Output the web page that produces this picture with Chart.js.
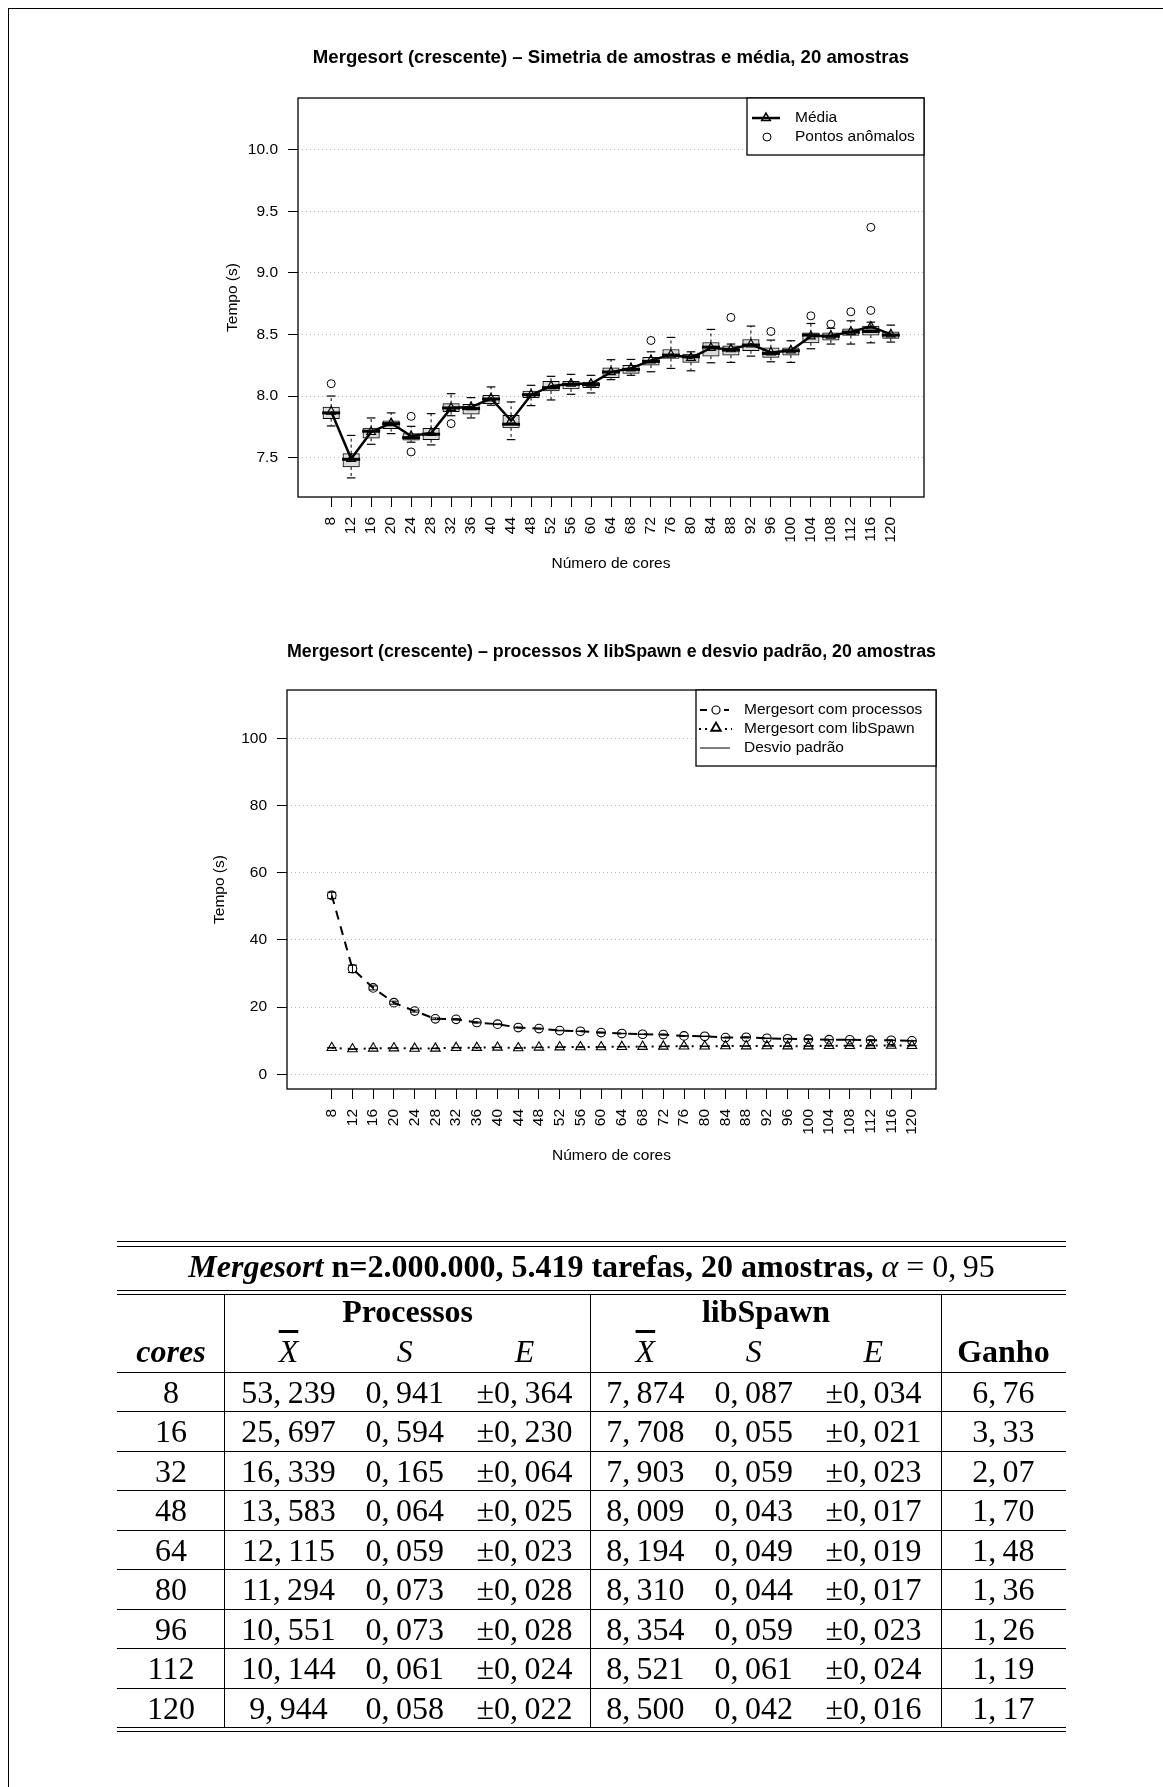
<!DOCTYPE html>
<html><head><meta charset="utf-8">
<script src="https://cdn.jsdelivr.net/npm/chart.js@4.4.1/dist/chart.umd.min.js"></script>
<style>
html,body{margin:0;padding:0;background:#fff;}
body{width:1163px;height:1787px;position:relative;overflow:hidden;}
#frame{position:absolute;left:8px;top:8px;width:1200px;height:1800px;border-left:1px solid #000;border-top:1px solid #000;}
.cv{position:absolute;}
#tbl{position:absolute;left:0;top:0;width:1163px;height:1787px;font-family:"Liberation Serif","Times New Roman",serif;color:#000;}
.rule{position:absolute;background:#000;}
.cell{position:absolute;text-align:center;white-space:nowrap;font-size:32px;}
.ov{text-decoration:overline;font-style:italic;}
</style></head><body>
<div id="frame"></div>
<div class="cv" style="left:100px;top:0;"><canvas id="c1" width="1022" height="600"></canvas></div>
<div class="cv" style="left:100px;top:600px;"><canvas id="c2" width="1023" height="600"></canvas></div>
<div id="tbl"></div>
<script>
// ---------- data ----------
const cores = [8,12,16,20,24,28,32,36,40,44,48,52,56,60,64,68,72,76,80,84,88,92,96,100,104,108,112,116,120];
const boxQ1   = [7.817,7.424,7.657,7.735,7.641,7.646,7.873,7.852,7.938,7.741,7.987,8.041,8.057,8.068,8.149,8.184,8.251,8.305,8.273,8.324,8.332,8.368,8.314,8.332,8.432,8.454,8.492,8.495,8.468];
const boxMed  = [7.863,7.486,7.714,7.776,7.662,7.690,7.903,7.898,7.976,7.771,8.011,8.068,8.095,8.093,8.195,8.216,8.281,8.332,8.319,8.397,8.373,8.414,8.346,8.368,8.495,8.486,8.519,8.524,8.495];
const boxQ3   = [7.910,7.532,7.740,7.798,7.695,7.738,7.938,7.933,8.006,7.844,8.041,8.120,8.120,8.114,8.228,8.249,8.314,8.378,8.341,8.435,8.408,8.459,8.392,8.392,8.514,8.514,8.546,8.568,8.522];
const whiskLo = [7.757,7.335,7.608,7.695,7.625,7.603,7.840,7.822,7.925,7.646,7.922,7.968,8.014,8.025,8.133,8.168,8.197,8.224,8.205,8.270,8.273,8.324,8.278,8.273,8.384,8.422,8.422,8.432,8.438];
const whiskHi = [8.000,7.680,7.822,7.863,7.754,7.857,8.019,7.987,8.074,7.952,8.087,8.160,8.176,8.168,8.295,8.297,8.359,8.476,8.359,8.541,8.422,8.568,8.454,8.449,8.589,8.550,8.611,8.600,8.576];
const libMean = [7.874,7.490,7.708,7.780,7.675,7.700,7.903,7.910,7.980,7.800,8.009,8.080,8.100,8.100,8.194,8.225,8.290,8.335,8.310,8.390,8.380,8.420,8.354,8.370,8.485,8.490,8.521,8.565,8.500];
const libSd   = [0.087,0.080,0.055,0.045,0.060,0.060,0.059,0.045,0.040,0.070,0.043,0.050,0.045,0.040,0.049,0.040,0.060,0.060,0.044,0.070,0.080,0.060,0.059,0.050,0.070,0.040,0.061,0.190,0.042];
const outCore = [8,24,24,32,72,88,96,104,108,112,116,116];
const outVal  = [8.10,7.835,7.546,7.776,8.451,8.638,8.524,8.651,8.584,8.684,9.370,8.695];
const procMean = [53.239,31.4,25.697,21.3,18.8,16.5,16.339,15.4,14.9,13.9,13.583,13.0,12.8,12.4,12.115,11.9,11.8,11.4,11.294,10.9,11.0,10.7,10.551,10.45,10.3,10.25,10.144,10.1,9.944];
const procSd   = [0.941,1.1,0.594,0.45,0.3,0.25,0.165,0.15,0.12,0.1,0.064,0.08,0.07,0.07,0.059,0.07,0.08,0.07,0.073,0.07,0.08,0.07,0.073,0.06,0.07,0.06,0.061,0.06,0.058];
const yTicks1 = [7.5,8.0,8.5,9.0,9.5,10.0];
const yTicks2 = [0,20,40,60,80,100];
const title1 = 'Mergesort (crescente) \u2013 Simetria de amostras e m\u00e9dia, 20 amostras';
const title2 = 'Mergesort (crescente) \u2013 processos X libSpawn e desvio padr\u00e3o, 20 amostras';
const xTitle = 'N\u00famero de cores';
const yTitle = 'Tempo (s)';
const legend1Labels = ['M\u00e9dia','Pontos an\u00f4malos'];
const legend2Labels = ['Mergesort com processos','Mergesort com libSpawn','Desvio padr\u00e3o'];
// table
const tCores = [8,16,32,48,64,80,96,112,120];
const tProcX = [53.239,25.697,16.339,13.583,12.115,11.294,10.551,10.144,9.944];
const tProcS = [0.941,0.594,0.165,0.064,0.059,0.073,0.073,0.061,0.058];
const tProcE = [0.364,0.230,0.064,0.025,0.023,0.028,0.028,0.024,0.022];
const tLibX  = [7.874,7.708,7.903,8.009,8.194,8.310,8.354,8.521,8.500];
const tLibS  = [0.087,0.055,0.059,0.043,0.049,0.044,0.059,0.061,0.042];
const tLibE  = [0.034,0.021,0.023,0.017,0.019,0.017,0.023,0.024,0.016];
const tGanho = [6.76,3.33,2.07,1.70,1.48,1.36,1.26,1.19,1.17];

// ---------- charts ----------
const FONT = '"Liberation Sans", Arial, Helvetica, sans-serif';
Chart.defaults.font.family = FONT;
Chart.defaults.color = '#000';
const NOFILL = 'rgba(0,0,0,0)';

const framePlugin = { id:'frame', afterDatasetsDraw(chart){
  const {ctx, chartArea:a} = chart; ctx.save(); ctx.strokeStyle='#000'; ctx.lineWidth=1.3;
  ctx.strokeRect(a.left, a.top, a.right-a.left, a.bottom-a.top); ctx.restore(); } };

function tri(ctx,x,y,r){ ctx.beginPath(); ctx.moveTo(x,y-r); ctx.lineTo(x+r*0.866,y+r*0.5); ctx.lineTo(x-r*0.866,y+r*0.5); ctx.closePath(); ctx.stroke(); }

const legend1 = { id:'legend1', afterDraw(chart){
  const {ctx, chartArea:a} = chart; const w=177, h=57, L=a.right-w, T=a.top;
  ctx.save(); ctx.fillStyle='#fff'; ctx.fillRect(L,T,w,h);
  ctx.strokeStyle='#000'; ctx.lineWidth=1.3; ctx.strokeRect(L,T,w,h);
  ctx.lineWidth=2.5; ctx.beginPath(); ctx.moveTo(L+5,T+20); ctx.lineTo(L+33,T+20); ctx.stroke();
  ctx.lineWidth=1.5; tri(ctx,L+19,T+20,5);
  ctx.lineWidth=1; ctx.beginPath(); ctx.arc(L+20,T+39,4,0,Math.PI*2); ctx.stroke();
  ctx.fillStyle='#000'; ctx.font='15.5px '+FONT; ctx.textBaseline='middle'; ctx.textAlign='left';
  ctx.fillText(legend1Labels[0],L+48,T+20); ctx.fillText(legend1Labels[1],L+48,T+39);
  ctx.restore(); } };

const legend2 = { id:'legend2', afterDraw(chart){
  const {ctx, chartArea:a} = chart; const w=240, h=76, L=a.right-w, T=a.top;
  ctx.save(); ctx.fillStyle='#fff'; ctx.fillRect(L,T,w,h);
  ctx.strokeStyle='#000'; ctx.lineWidth=1.3; ctx.strokeRect(L,T,w,h);
  ctx.lineWidth=2; ctx.beginPath(); ctx.moveTo(L+4,T+20); ctx.lineTo(L+11,T+20); ctx.moveTo(L+28,T+20); ctx.lineTo(L+33,T+20); ctx.stroke();
  ctx.lineWidth=1.2; ctx.beginPath(); ctx.arc(L+20,T+20,4,0,Math.PI*2); ctx.stroke();
  ctx.lineWidth=2; ctx.setLineDash([2,4]); ctx.beginPath(); ctx.moveTo(L+3,T+39); ctx.lineTo(L+12,T+39); ctx.moveTo(L+29,T+39); ctx.lineTo(L+36,T+39); ctx.stroke(); ctx.setLineDash([]);
  ctx.lineWidth=1.8; tri(ctx,L+20,T+38,5.5);
  ctx.lineWidth=1; ctx.beginPath(); ctx.moveTo(L+4,T+58); ctx.lineTo(L+34,T+58); ctx.stroke();
  ctx.fillStyle='#000'; ctx.font='15.5px '+FONT; ctx.textBaseline='middle'; ctx.textAlign='left';
  legend2Labels.forEach((t,i)=>ctx.fillText(t,L+48,T+20+19*i));
  ctx.restore(); } };

const tickFont = {size:15.5, family:FONT};
const idx = cores.map((c,i)=>i+1);

// chart 1 datasets
const whiskSeg = [];
idx.forEach((x,i)=>{ whiskSeg.push({x,y:boxQ3[i]},{x,y:whiskHi[i]},{x,y:null},{x,y:boxQ1[i]},{x,y:whiskLo[i]},{x,y:null}); });
const staples = [];
idx.forEach((x,i)=>{ staples.push({x,y:whiskHi[i]},{x,y:whiskLo[i]}); });

new Chart(document.getElementById('c1'), {
  type:'bar',
  data:{ datasets:[
    {type:'bar', data: idx.map((x,i)=>({x, y:[boxQ1[i],boxQ3[i]]})), backgroundColor:'#dcdcdc', borderColor:'#000', borderWidth:1, borderSkipped:false, barThickness:16.5, order:6},
    {type:'line', data: whiskSeg, borderColor:'#000', borderWidth:1, borderDash:[3,3], pointRadius:0, spanGaps:false, order:5},
    {type:'scatter', data: staples, pointStyle:'line', pointRadius:4.3, pointBorderColor:'#000', pointBorderWidth:1.2, order:4},
    {type:'scatter', data: idx.map((x,i)=>({x,y:boxMed[i]})), pointStyle:'line', pointRadius:9, pointBorderColor:'#000', pointBorderWidth:3, order:3},
    {type:'line', data: idx.map((x,i)=>({x,y:libMean[i]})), borderColor:'#000', borderWidth:2.5, pointStyle:'triangle', pointRadius:5, pointBackgroundColor:NOFILL, pointBorderColor:'#000', pointBorderWidth:1.2, order:2},
    {type:'scatter', data: outCore.map((c,i)=>({x:cores.indexOf(c)+1, y:outVal[i]})), pointStyle:'circle', pointRadius:4, pointBackgroundColor:NOFILL, pointBorderColor:'#000', pointBorderWidth:1, order:1}
  ]},
  options:{
    responsive:false, animation:false, events:[],
    layout:{padding:{top:0,left:0,right:198,bottom:0}},
    plugins:{ legend:{display:false}, tooltip:{enabled:false},
      title:{display:true, fullSize:false, text:title1, color:'#000', font:{size:18.6, weight:'bold', family:FONT}, padding:{top:46.8,bottom:28.9}} },
    scales:{
      x:{type:'linear', offset:false, min:-0.66, max:30.66,
        afterBuildTicks: ax=>{ ax.ticks = idx.map(v=>({value:v})); },
        ticks:{autoSkip:false, minRotation:90, maxRotation:90, padding:10, font:tickFont, color:'#000', callback:(v)=>String(cores[Math.round(v)-1])},
        grid:{offset:false, drawOnChartArea:false, drawTicks:true, tickLength:10, tickColor:'#000', tickWidth:1},
        border:{display:false},
        title:{display:true, text:xTitle, color:'#000', font:tickFont, padding:{top:0,bottom:26.7}},
        afterFit: s=>{ s.height = 103; } },
      y:{type:'linear', min:7.18, max:10.42, beginAtZero:false,
        afterBuildTicks: ax=>{ ax.ticks = yTicks1.map(v=>({value:v})); },
        ticks:{padding:10, font:tickFont, color:'#000', callback:(v)=>v.toFixed(1)},
        grid:{color:'#b4b4b4', lineWidth:1, drawTicks:true, tickLength:10, tickColor:'#000', tickWidth:1},
        border:{display:false, dash:[1,3]},
        title:{display:true, text:yTitle, color:'#000', font:tickFont, padding:{top:123.4,bottom:0}},
        afterFit: s=>{ s.width = 198; } }
    }
  },
  plugins:[framePlugin, legend1]
});

// chart 2 datasets
const errSeg = [], caps = [];
cores.forEach((c,i)=>{
  errSeg.push({x:c,y:procMean[i]-procSd[i]},{x:c,y:procMean[i]+procSd[i]},{x:c,y:null});
  errSeg.push({x:c,y:libMean[i]-libSd[i]},{x:c,y:libMean[i]+libSd[i]},{x:c,y:null});
  caps.push({x:c,y:procMean[i]-procSd[i]},{x:c,y:procMean[i]+procSd[i]},{x:c,y:libMean[i]-libSd[i]},{x:c,y:libMean[i]+libSd[i]});
});

new Chart(document.getElementById('c2'), {
  type:'line',
  data:{ datasets:[
    {type:'line', data: cores.map((c,i)=>({x:c,y:procMean[i]})), borderColor:'#000', borderWidth:2, borderDash:[9,7], pointStyle:'circle', pointRadius:4.3, pointBackgroundColor:NOFILL, pointBorderColor:'#000', pointBorderWidth:1.1, order:3},
    {type:'line', data: cores.map((c,i)=>({x:c,y:libMean[i]})), borderColor:'#000', borderWidth:2, borderDash:[2,6], pointStyle:'triangle', pointRadius:5.5, pointBackgroundColor:NOFILL, pointBorderColor:'#000', pointBorderWidth:1.1, order:2},
    {type:'line', data: errSeg, borderColor:'#000', borderWidth:1, pointRadius:0, spanGaps:false, order:1},
    {type:'scatter', data: caps, pointStyle:'line', pointRadius:4.5, pointBorderColor:'#000', pointBorderWidth:1, order:1}
  ]},
  options:{
    responsive:false, animation:false, events:[],
    layout:{padding:{top:0,left:0,right:187,bottom:0}},
    plugins:{ legend:{display:false}, tooltip:{enabled:false},
      title:{display:true, fullSize:false, text:title2, color:'#000', font:{size:18.6, weight:'bold', family:FONT}, padding:{top:40.8,bottom:26.9}} },
    scales:{
      x:{type:'linear', offset:false, min:-0.64, max:124.64,
        afterBuildTicks: ax=>{ ax.ticks = cores.map(v=>({value:v})); },
        ticks:{autoSkip:false, minRotation:90, maxRotation:90, padding:10, font:tickFont, color:'#000', callback:(v)=>String(v)},
        grid:{drawOnChartArea:false, drawTicks:true, tickLength:10, tickColor:'#000', tickWidth:1},
        border:{display:false},
        title:{display:true, text:xTitle, color:'#000', font:tickFont, padding:{top:0,bottom:34.7}},
        afterFit: s=>{ s.height = 111; } },
      y:{type:'linear', min:-4.4, max:114.4,
        afterBuildTicks: ax=>{ ax.ticks = yTicks2.map(v=>({value:v})); },
        ticks:{padding:10, font:tickFont, color:'#000', callback:(v)=>String(v)},
        grid:{color:'#b4b4b4', lineWidth:1, drawTicks:true, tickLength:10, tickColor:'#000', tickWidth:1},
        border:{display:false, dash:[1,3]},
        title:{display:true, text:yTitle, color:'#000', font:tickFont, padding:{top:110.7,bottom:0}},
        afterFit: s=>{ s.width = 187; } }
    }
  },
  plugins:[framePlugin, legend2]
});

// ---------- table ----------
const tbl = document.getElementById('tbl');
function rule(x,y,w,h){ const d=document.createElement('div'); d.className='rule'; d.style.cssText=`left:${x}px;top:${y}px;width:${w}px;height:${h}px`; tbl.appendChild(d); }
function cell(html,cx,cy,w){ w=w||260; const d=document.createElement('div'); d.className='cell';
  d.style.cssText=`left:${cx-w/2}px;width:${w}px;top:${cy-20}px;height:40px;line-height:40px;`; d.innerHTML=html; tbl.appendChild(d); }
const fmt=(v,d)=>v.toFixed(d).replace('.', ',\u2009');
const TL=117, TR=1066, TW=TR-TL, RH=1.3;
rule(TL,1241,TW,RH); rule(TL,1245.5,TW,RH);
rule(TL,1289.5,TW,RH); rule(TL,1294,TW,RH);
const r0=1371.5, rowH=39.5;
for(let k=0;k<tCores.length;k++) rule(TL,r0+rowH*k,TW,RH);
const bottomY = r0+rowH*tCores.length;
rule(TL,bottomY-0.5,TW,RH); rule(TL,bottomY+4,TW,RH);
[224,590,941].forEach(x=>rule(x,1295,RH,bottomY-1295));
cell('<b><i>Mergesort</i> n=2.000.000, 5.419 tarefas, 20 amostras,</b> <i>\u03b1</i> = 0,\u200995', (TL+TR)/2, 1266, 949);
const colX=[171,288.5,404.8,524.5,645.4,753.7,873.4,1003.4];
cell('<b>Processos</b>',407.6,1311); cell('<b>libSpawn</b>',766,1311);
cell('<b><i>cores</i></b>',colX[0],1351);
cell('<span class="ov">X</span>',colX[1],1351); cell('<i>S</i>',colX[2],1351); cell('<i>E</i>',colX[3],1351);
cell('<span class="ov">X</span>',colX[4],1351); cell('<i>S</i>',colX[5],1351); cell('<i>E</i>',colX[6],1351);
cell('<b>Ganho</b>',colX[7],1351);
tCores.forEach((c,i)=>{
  const cy = r0+rowH*i+rowH/2+0.6;
  cell(String(c),colX[0],cy);
  cell(fmt(tProcX[i],3),colX[1],cy); cell(fmt(tProcS[i],3),colX[2],cy); cell('\u00b1'+fmt(tProcE[i],3),colX[3],cy);
  cell(fmt(tLibX[i],3),colX[4],cy); cell(fmt(tLibS[i],3),colX[5],cy); cell('\u00b1'+fmt(tLibE[i],3),colX[6],cy);
  cell(fmt(tGanho[i],2),colX[7],cy);
});
</script>
</body></html>
